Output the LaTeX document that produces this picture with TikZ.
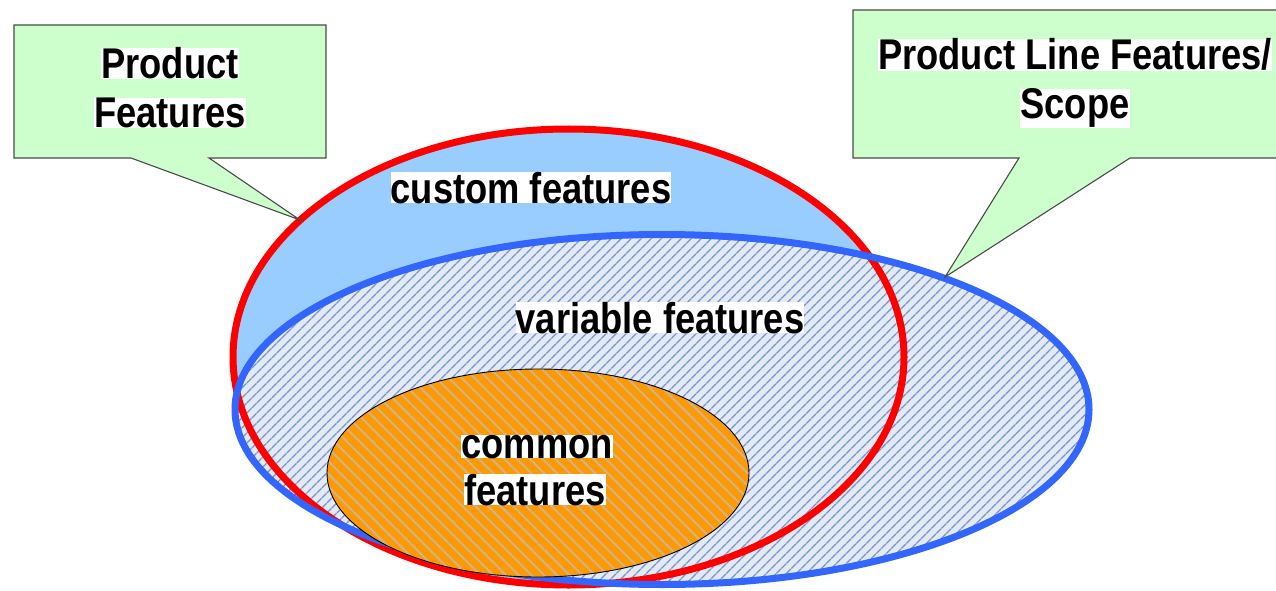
\documentclass[tikz,border=0pt]{standalone}
\usepackage{fontspec}
\setmainfont{Liberation Sans}[FakeStretch=0.845]
\usetikzlibrary{patterns.meta}
\definecolor{calloutfill}{HTML}{CCFFCC}
\definecolor{calloutline}{HTML}{4A4A4A}
\definecolor{customfill}{HTML}{99CCFF}
\definecolor{scopefill}{HTML}{E4EAF5}
\definecolor{scopehatch}{HTML}{7394CC}
\definecolor{scopeline}{HTML}{3366FF}
\definecolor{productline}{HTML}{FF0000}
\definecolor{commonfill}{HTML}{FF9900}
\definecolor{commonhatch}{HTML}{C9B59E}
\newcommand{\whitebg}[1]{{\setlength{\fboxsep}{0pt}\colorbox{white}{#1}}}
\tikzset{
  callout/.style={fill=calloutfill, draw=calloutline, line width=1.1pt, line join=miter},
  label/.style={anchor=base, inner sep=0pt, font=\fontsize{43}{49}\selectfont\bfseries},
}
\begin{document}
\begin{tikzpicture}[x=1pt,y=-1pt]
  \clip (0,0) rectangle (1276,591);
  \fill[white] (0,0) rectangle (1276,591);

  % ellipse centres
  \coordinate (pc) at (568.5,357);
  \coordinate (sc) at (662,409.5);
  \coordinate (cc) at (538,473);

  % product features: plain fill
  \fill[customfill] (pc) ellipse [x radius=335.5, y radius=228];
  % product line scope: pale fill with hatching
  \fill[scopefill] (sc) ellipse [x radius=427, y radius=175];
  \fill[pattern={Lines[angle=45,distance=7.4pt,line width=1.6pt]}, pattern color=scopehatch]
    (sc) ellipse [x radius=427, y radius=175];

  % outlines
  \draw[productline, line width=7pt] (pc) ellipse [x radius=335.5, y radius=228];
  \draw[scopeline, line width=7pt] (sc) ellipse [x radius=427, y radius=175];

  % common features
  \fill[commonfill] (cc) ellipse [x radius=211, y radius=104];
  \fill[pattern={Lines[angle=-45,distance=9pt,line width=1.8pt]}, pattern color=commonhatch]
    (cc) ellipse [x radius=211, y radius=104];
  \draw[black, line width=0.9pt] (cc) ellipse [x radius=211, y radius=104];

  % callouts
  \coordinate (ptip) at (300,220);
  \coordinate (stip) at (945,277);
  \draw[callout] (14,25) -- (326,25) -- (326,158) -- (209,158) -- (ptip)
    -- (131,158) -- (14,158) -- cycle;
  \draw[callout] (853,10) -- (1290,10) -- (1290,158) -- (1130,158) -- (stip)
    -- (1019,158) -- (853,158) -- cycle;

  % texts
  \node[label] (pf1) at (170,79) {\whitebg{Product}};
  \node[label] (pf2) at (170,128) {\whitebg{Features}};
  \node[label] (pl1) at (1075,70) {\whitebg{Product Line Features/}};
  \node[label] (pl2) at (1075,119) {\whitebg{Scope}};
  \node[label] (cust) at (531,203) {\whitebg{custom features}};
  \node[label] (var) at (660,333) {\whitebg{variable features}};
  \node[label] (com1) at (537,458) {\whitebg{common}};
  \node[label] (com2) at (535,505) {\whitebg{features}};
\end{tikzpicture}
\end{document}
